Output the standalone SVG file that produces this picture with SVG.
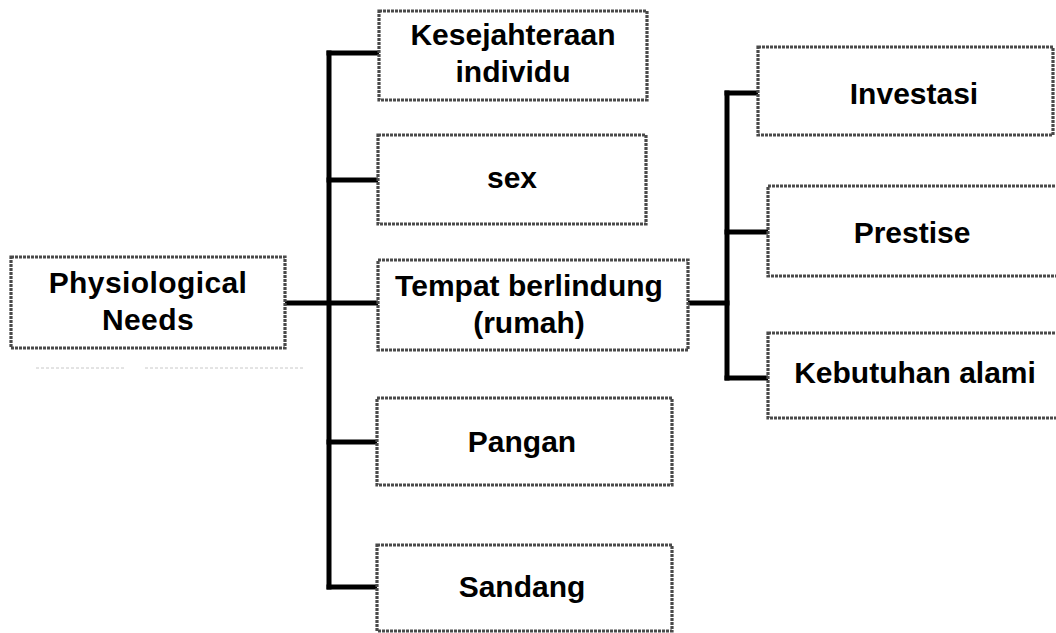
<svg xmlns="http://www.w3.org/2000/svg" width="1056" height="633" viewBox="0 0 1056 633">
  <style>
    .box { fill: #ffffff; stroke: #4a4a4a; stroke-width: 3.2; stroke-dasharray: 3 1; }
    .lbl { font-family: "Liberation Sans", Arial, sans-serif; font-weight: bold; font-size: 30px; fill: #000; text-anchor: middle; }
    .wire { fill: none; stroke: #000; stroke-width: 5; stroke-linejoin: miter; stroke-linecap: square; }
    .faint { fill: none; stroke: #c8c8c8; stroke-width: 1; stroke-dasharray: 3 2; }
  </style>
  <rect width="1056" height="633" fill="#ffffff"/>

  <!-- connectors -->
  <g id="connectors">
    <path class="wire" d="M286 303 H377"/>
    <path class="wire" d="M329 53 V587"/>
    <path class="wire" d="M329 53 H377"/>
    <path class="wire" d="M329 180 H377"/>
    <path class="wire" d="M329 442 H376"/>
    <path class="wire" d="M329 587 H376"/>
    <path class="wire" d="M689 303 H727"/>
    <path class="wire" d="M727 93 V378"/>
    <path class="wire" d="M727 93 H757"/>
    <path class="wire" d="M727 232 H768"/>
    <path class="wire" d="M727 378 H768"/>
  </g>

  <!-- faint rule under the root node -->
  <g id="rule">
    <path class="faint" d="M36 368 H126 M145 368 H305"/>
  </g>

  <g id="node-physiological">
    <rect class="box" x="11" y="257" width="274" height="91"/>
    <text class="lbl" x="148" y="293" letter-spacing="0.4">Physiological</text>
    <text class="lbl" x="148" y="330" letter-spacing="0.4">Needs</text>
  </g>

  <g id="node-kesejahteraan">
    <rect class="box" x="379" y="11" width="268" height="89"/>
    <text class="lbl" x="513" y="45">Kesejahteraan</text>
    <text class="lbl" x="513" y="82">individu</text>
  </g>

  <g id="node-sex">
    <rect class="box" x="378" y="135" width="268" height="89"/>
    <text class="lbl" x="512" y="188">sex</text>
  </g>

  <g id="node-tempat">
    <rect class="box" x="378" y="260" width="310" height="90"/>
    <text class="lbl" x="529" y="296">Tempat berlindung</text>
    <text class="lbl" x="529" y="333">(rumah)</text>
  </g>

  <g id="node-pangan">
    <rect class="box" x="377" y="398" width="295" height="87"/>
    <text class="lbl" x="522" y="452">Pangan</text>
  </g>

  <g id="node-sandang">
    <rect class="box" x="377" y="545" width="295" height="86"/>
    <text class="lbl" x="522" y="597">Sandang</text>
  </g>

  <g id="node-investasi">
    <rect class="box" x="758" y="47" width="295" height="88"/>
    <text class="lbl" x="914" y="104">Investasi</text>
  </g>

  <g id="node-prestise">
    <rect class="box" x="768" y="186" width="300" height="90"/>
    <text class="lbl" x="912" y="243">Prestise</text>
  </g>

  <g id="node-kebutuhan">
    <rect class="box" x="768" y="333" width="300" height="85"/>
    <text class="lbl" x="915" y="383">Kebutuhan alami</text>
  </g>
</svg>
